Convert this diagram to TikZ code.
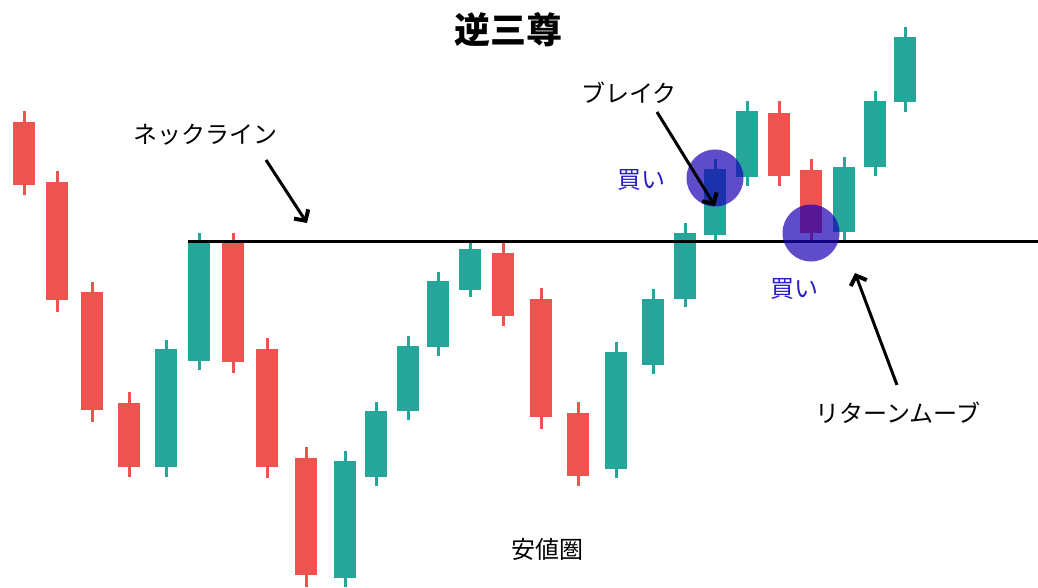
\documentclass[tikz,border=0pt]{standalone}
\usepackage{fontspec}
\setmainfont{Noto Sans CJK JP}
\usetikzlibrary{arrows.meta}
\definecolor{candleup}{HTML}{26A69A}
\definecolor{candledown}{HTML}{EF5350}
\definecolor{buyblue}{RGB}{25,0,180}
\definecolor{buytext}{RGB}{40,30,200}

\begin{document}
\begin{tikzpicture}[x=1pt,y=-1pt,
  lbl/.style={font=\fontsize{24}{24}\selectfont},
  buylbl/.style={font=\fontsize{24}{24}\selectfont,text=buytext},
  buypt/.style={circle,fill=buyblue,fill opacity=0.7,minimum size=57pt,inner sep=0pt},
  pointer/.style={line width=3pt,-{Straight Barb[length=8pt,width=17pt,line width=4pt]}}]
\useasboundingbox (0,0) rectangle (1038,588);
% candles: x / body top / body bottom / high / low / colour
\foreach \x/\bt/\bb/\hi/\lo/\c in {
  24/122/185/111/195/candledown, 57/182/300/171/312/candledown,
  92/292/410/282/422/candledown, 129/403/467/392/477/candledown,
  166/349/467/340/477/candleup, 199/242/361/233/370/candleup,
  233/243/362/233/373/candledown, 267/349/467/338/478/candledown,
  306/458/575/447/587/candledown, 345/461/578/451/587/candleup,
  376/411/477/402/486/candleup, 408/346/411/336/420/candleup,
  438/281/347/272/356/candleup, 470/249/290/242/297/candleup,
  503/253/316/243/326/candledown, 541/299/417/288/429/candledown,
  578/413/476/402/486/candledown, 616/352/469/342/478/candleup,
  653/299/365/289/374/candleup, 685/233/299/223/307/candleup,
  715/169/235/159/243/candleup, 747/111/177/101/186/candleup,
  779/113/176/101/186/candledown, 811/170/233/159/243/candledown,
  844/167/232/157/242/candleup, 875/101/167/91/176/candleup,
  905/37/102/27/112/candleup}{
  \draw[draw=\c,line width=3pt] (\x,\hi) -- (\x,\lo);
  \fill[\c] (\x-11,\bt) rectangle (\x+11,\bb);
}
% neckline
\coordinate (lineL) at (188,241);
\coordinate (lineR) at (1038,241);
\draw[line width=3pt] (lineL) -- (lineR);
% buy points
\node[buypt] (buyA) at (715,178) {};
\node[buypt] (buyB) at (811,233) {};
% labels
\node[font=\fontsize{36}{36}\selectfont\bfseries] (title) at (508,30) {逆三尊};
\node[lbl] (neck) at (205,135) {ネックライン};
\node[lbl] (brk) at (629,93) {ブレイク};
\node[lbl] (ret) at (898,413) {リターンムーブ};
\node[lbl] (low) at (547,549) {安値圏};
\node[buylbl] (buyAlbl) at (641,180) {買い};
\node[buylbl] (buyBlbl) at (794,289) {買い};
% arrows
\coordinate (neckS) at (266,160);
\coordinate (neckE) at (307,223);
\coordinate (brkS) at (657,112);
\coordinate (brkE) at (715,206);
\coordinate (retS) at (897,385);
\coordinate (retE) at (855,273);
\draw[pointer] (neckS) -- (neckE);
\draw[pointer] (brkS) -- (brkE);
\draw[pointer] (retS) -- (retE);
\end{tikzpicture}
\end{document}
